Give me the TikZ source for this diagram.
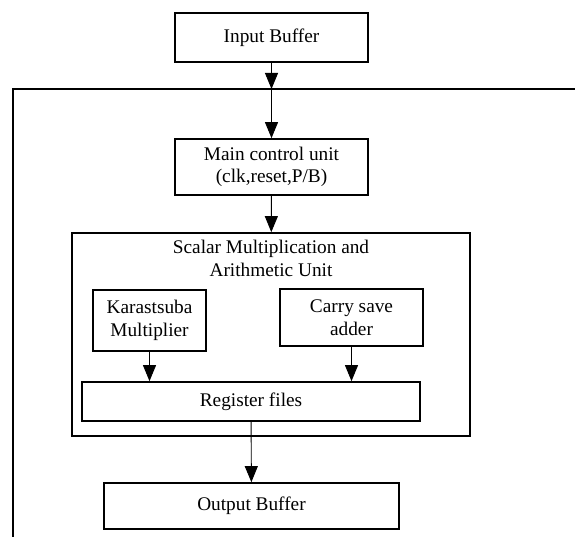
\documentclass[tikz,border=0pt]{standalone}
\usepackage{fontspec}
\setmainfont{Liberation Serif}
\usetikzlibrary{arrows.meta}
\usetikzlibrary{positioning}
\tikzset{>={Triangle[width=13pt,length=16pt]}}

\begin{document}
\begin{tikzpicture}[x=1pt,y=-1pt,
    box/.style={draw, line width=1.7pt, inner sep=0pt, align=center,
                font=\fontsize{19.3}{22.5}\selectfont},
    arr/.style={->, line width=0.9pt},
    lbl/.style={inner sep=0pt, align=center, font=\fontsize{19.3}{22.5}\selectfont}]

  \useasboundingbox (0,0) rectangle (575,537);

  %% outer frame, cut by the page edge
  \draw[line width=1.7pt] (13,537) -- (13,89) -- (575,89);
  \coordinate (entry) at (271.5,89);

  \node[box, minimum width=193, minimum height=49] (inbuf) at (271.5,37.5) {Input Buffer};
  \node[box, minimum width=193, minimum height=56] (mcu) at (271.5,167) {Main control unit\\(clk,reset,P/B)};

  \node[box, minimum width=398, minimum height=203] (smau) at (271,334.5) {};
  \node[lbl, below=8pt of smau.north] (smaut) {Scalar Multiplication and\\Arithmetic Unit};

  \node[box, minimum width=113, minimum height=61] (kara) at (149.5,320.5) {Karastsuba\\Multiplier};
  \node[box, minimum width=143, minimum height=57] (csa) at (351.5,317.5) {Carry save\\adder};
  \node[box, minimum width=338, minimum height=39] (reg) at (251,401.5) {Register files};

  \node[box, minimum width=295, minimum height=46] (outbuf) at (251.5,506) {Output Buffer};

  \draw[arr] (inbuf) -- (entry); %% input frame
  \draw[arr] (entry) -- (mcu); %% frame control
  \draw[arr] (mcu) -- (smau); %% control unit
  \draw[arr] (kara) -- (kara |- reg.north); %% mult reg
  \draw[arr] (csa) -- (csa |- reg.north); %% adder reg
  \draw[arr] (reg) -- (outbuf); %% reg output

\end{tikzpicture}
\end{document}
